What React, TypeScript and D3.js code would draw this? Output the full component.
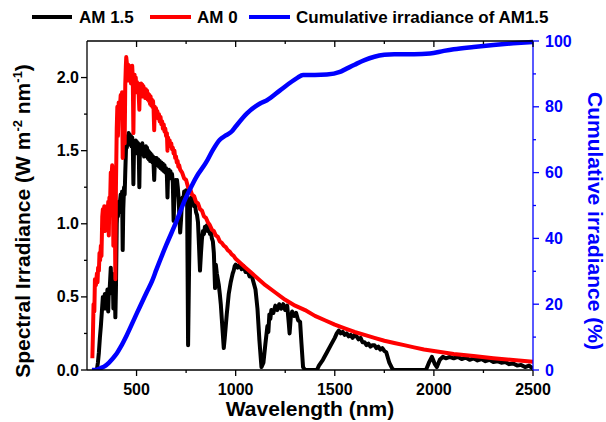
import React from "react";
import * as d3 from "d3";

// AM 0 spectrum: [wavelength (nm), spectral irradiance (W m-2 nm-1)]
const am0Data: [number, number][] = [
  [277,0.08],[280,0.25],[283,0.45],[287,0.40],[290,0.62],[295,0.58],[300,0.66],[303,0.60],[306,0.70],[310,0.68],
  [313,0.80],[316,0.75],[320,0.85],[323,0.78],[327,1.05],[330,1.10],[333,0.98],[337,1.12],[340,0.95],[343,1.08],
  [347,1.00],[350,1.12],[353,0.98],[357,1.15],[360,0.92],[363,1.18],[366,1.12],[370,1.35],[373,1.30],[377,1.40],
  [380,1.32],[383,0.85],[386,1.20],[390,1.15],[393,0.62],[396,1.25],[400,1.65],[403,1.80],[406,1.60],[410,1.83],
  [413,1.75],[417,1.82],[420,1.88],[423,1.75],[427,1.90],[430,1.45],[433,1.78],[437,1.90],[440,1.55],[443,1.95],
  [446,2.08],[448,2.14],[451,2.10],[454,2.02],[457,2.09],[460,1.98],[463,2.08],[466,2.03],[469,2.07],[472,1.96],
  [475,2.04],[478,2.08],[481,1.99],[484,1.62],[487,1.95],[490,2.02],[493,1.92],[496,2.00],[499,1.90],[502,1.97],
  [505,1.91],[508,1.96],[511,1.88],[514,1.78],[517,1.94],[520,1.89],[523,1.96],[526,1.90],[529,1.95],[532,1.87],
  [535,1.94],[538,1.89],[541,1.92],[544,1.86],[547,1.92],[550,1.88],[553,1.91],[556,1.85],[559,1.89],[562,1.84],
  [565,1.88],[568,1.82],[571,1.87],[574,1.81],[577,1.85],[580,1.80],[583,1.84],[586,1.78],[589,1.64],[592,1.80],
  [595,1.76],[598,1.79],[601,1.74],[605,1.77],[609,1.72],[613,1.75],[617,1.70],[621,1.73],[625,1.68],[629,1.70],
  [633,1.65],[637,1.68],[641,1.63],[645,1.65],[649,1.60],[653,1.62],[656,1.50],[659,1.59],[663,1.55],[667,1.57],
  [671,1.53],[675,1.55],[679,1.51],[683,1.52],[687,1.48],[691,1.50],[695,1.45],[699,1.46],[703,1.42],[707,1.43],
  [711,1.39],[715,1.40],[720,1.37],[730,1.35],[740,1.31],[750,1.30],[760,1.25],[770,1.24],[780,1.20],[790,1.19],
  [800,1.15],[810,1.14],[820,1.10],[830,1.09],[840,1.05],[850,1.04],[860,1.01],[870,0.99],[880,0.96],[890,0.95],
  [900,0.92],[910,0.91],[920,0.88],[930,0.87],[940,0.85],[950,0.84],[960,0.82],[970,0.81],[980,0.79],[990,0.78],
  [1000,0.76],[1025,0.73],[1050,0.70],[1075,0.67],[1100,0.64],[1150,0.58],[1200,0.53],[1250,0.48],[1300,0.44],
  [1350,0.41],[1400,0.37],[1450,0.34],[1500,0.31],[1550,0.285],[1600,0.26],[1650,0.24],[1700,0.22],[1750,0.20],
  [1800,0.185],[1850,0.17],[1900,0.155],[1950,0.14],[2000,0.13],[2100,0.11],[2200,0.095],[2300,0.08],[2400,0.068],
  [2500,0.057],
];

// AM 1.5 spectrum
const am15Data: [number, number][] = [
  [295,0],[300,0.005],[305,0.05],[310,0.12],[315,0.22],[320,0.30],[325,0.40],[330,0.50],[333,0.45],[337,0.48],
  [340,0.52],[343,0.42],[347,0.50],[350,0.48],[353,0.55],[357,0.40],[360,0.55],[363,0.52],[367,0.62],[370,0.70],
  [373,0.58],[377,0.66],[380,0.64],[383,0.42],[386,0.62],[390,0.60],[393,0.36],[396,0.55],[400,1.00],[403,1.10],
  [406,1.05],[410,1.15],[413,1.12],[417,1.16],[420,1.20],[423,1.08],[427,1.22],[430,0.82],[433,1.10],[437,1.25],
  [440,1.20],[443,1.35],[446,1.48],[448,1.56],[451,1.52],[454,1.60],[457,1.55],[460,1.62],[463,1.56],[466,1.61],
  [469,1.54],[472,1.60],[475,1.53],[478,1.59],[481,1.55],[484,1.27],[487,1.50],[490,1.56],[493,1.48],[496,1.57],
  [499,1.51],[502,1.56],[505,1.49],[508,1.55],[511,1.50],[514,1.25],[517,1.52],[520,1.47],[523,1.54],[526,1.49],
  [529,1.55],[532,1.48],[535,1.53],[538,1.46],[541,1.52],[544,1.47],[547,1.53],[550,1.48],[553,1.52],[556,1.45],
  [559,1.50],[562,1.44],[565,1.49],[568,1.43],[571,1.48],[574,1.44],[577,1.47],[580,1.42],[583,1.46],[586,1.40],
  [589,1.30],[592,1.42],[595,1.45],[598,1.40],[601,1.45],[605,1.41],[609,1.44],[613,1.39],[617,1.43],[621,1.38],
  [625,1.42],[629,1.37],[633,1.41],[637,1.36],[641,1.40],[645,1.35],[649,1.38],[653,1.33],[656,1.18],[659,1.34],
  [663,1.37],[667,1.32],[671,1.36],[675,1.31],[679,1.34],[683,1.28],[687,1.02],[690,1.15],[693,1.25],[697,1.30],
  [700,1.27],[704,1.30],[708,1.25],[712,1.18],[716,1.05],[720,0.94],[724,1.02],[728,1.12],[732,1.18],[736,1.15],
  [740,1.22],[745,1.19],[750,1.23],[755,1.17],[760,0.17],[765,0.70],[770,1.13],[775,1.18],[780,1.14],[785,1.17],
  [790,1.12],[795,1.13],[800,1.08],[805,1.06],[810,1.01],[815,0.85],[820,0.68],[825,0.80],[830,0.90],[835,0.95],
  [840,0.93],[845,0.98],[850,0.96],[855,0.99],[860,0.95],[865,0.97],[870,0.93],[875,0.95],[880,0.90],[885,0.88],
  [890,0.80],[896,0.56],[900,0.72],[905,0.66],[910,0.62],[915,0.58],[920,0.52],[925,0.45],[930,0.35],[935,0.25],
  [940,0.15],[945,0.22],[950,0.30],[955,0.38],[960,0.45],[965,0.52],[970,0.56],[975,0.60],[980,0.63],[985,0.66],
  [990,0.68],[995,0.71],[1000,0.72],[1010,0.70],[1020,0.72],[1030,0.69],[1040,0.71],[1050,0.67],[1060,0.68],
  [1070,0.64],[1080,0.65],[1090,0.60],[1100,0.55],[1110,0.42],[1120,0.20],[1130,0.02],[1140,0.05],[1150,0.18],
  [1160,0.30],[1165,0.26],[1170,0.38],[1175,0.35],[1180,0.41],[1190,0.39],[1200,0.44],[1210,0.41],[1220,0.45],
  [1230,0.42],[1240,0.45],[1250,0.41],[1260,0.44],[1268,0.32],[1272,0.25],[1278,0.36],[1285,0.40],[1295,0.37],
  [1305,0.39],[1315,0.34],[1325,0.33],[1332,0.18],[1340,0.02],[1350,0],[1410,0],[1420,0.03],[1440,0.07],
  [1460,0.12],[1480,0.17],[1500,0.22],[1510,0.25],[1520,0.27],[1530,0.25],[1540,0.26],[1550,0.24],[1560,0.25],
  [1570,0.23],[1580,0.24],[1590,0.22],[1600,0.24],[1610,0.23],[1620,0.21],[1630,0.22],[1640,0.19],[1650,0.19],
  [1660,0.17],[1670,0.18],[1680,0.16],[1690,0.17],[1700,0.17],[1710,0.15],[1720,0.16],[1730,0.14],[1740,0.15],
  [1750,0.13],[1760,0.12],[1775,0.05],[1790,0.01],[1800,0],[1960,0],[1975,0.05],[1990,0.09],[2005,0.04],
  [2015,0.02],[2030,0.07],[2045,0.09],[2060,0.08],[2080,0.09],[2100,0.08],[2120,0.09],[2140,0.075],[2160,0.085],
  [2180,0.07],[2200,0.08],[2220,0.065],[2240,0.075],[2260,0.06],[2280,0.07],[2300,0.055],[2320,0.06],[2340,0.05],
  [2360,0.055],[2380,0.04],[2400,0.045],[2420,0.03],[2440,0.035],[2460,0.02],[2480,0.03],[2500,0.01],
];

// Cumulative irradiance of AM1.5 (%)
const cumData: [number, number][] = [
  [275,0],[300,0.1],[320,0.6],[340,1.2],[360,2.2],[380,3.5],[400,5],[420,7],[450,10.5],[492,16],[550,23.5],
  [578,27],[600,30.5],[650,38],[700,45],[744,51.7],[770,55],[800,58.5],[850,63],[886,67],[920,70],[950,71.3],
  [980,72.5],[1000,74],[1057,78],[1123,81],[1158,82],[1224,85],[1309,88.7],[1340,89.7],[1400,89.7],[1460,89.8],
  [1526,90.6],[1550,91.3],[1600,92.8],[1650,94.2],[1700,95.2],[1750,95.8],[1800,96],[1900,96],[1980,96.2],
  [2050,97],[2100,97.5],[2200,98.2],[2300,98.8],[2400,99.3],[2500,99.7],
];

const xMajor = [500, 1000, 1500, 2000, 2500];
const xMinor = [750, 1250, 1750, 2250];
const yLMajor = [0, 0.5, 1.0, 1.5, 2.0];
const yLMinor = [0.25, 0.75, 1.25, 1.75];
const yRMajor = [0, 20, 40, 60, 80, 100];
const yRMinor = [10, 30, 50, 70, 90];

const FONT = "'Liberation Sans', Arial, sans-serif";
const BLUE = "#0000ff";
const RED = "#ff0000";

export default function App() {
  const L = 87, R = 533, T = 41, B = 370;
  const x = d3.scaleLinear().domain([250, 2500]).range([L, R]);
  const yL = d3.scaleLinear().domain([0, 2.25]).range([B, T]);
  const yR = d3.scaleLinear().domain([0, 100]).range([B, T]);

  const specLine = d3
    .line<[number, number]>()
    .x((d) => x(d[0]))
    .y((d) => yL(d[1]));
  const cumLine = d3
    .line<[number, number]>()
    .x((d) => x(d[0]))
    .y((d) => yR(d[1]))
    .curve(d3.curveMonotoneX);

  const tickFs = 16;

  return (
    <svg
      width={606}
      height={422}
      style={{ position: "absolute", left: 0, top: 0, background: "#fff" }}
      fontFamily={FONT}
      fontWeight="bold"
    >
      <rect x={0} y={0} width={606} height={422} fill="#fff" />
      <defs>
        <clipPath id="plotclip">
          <rect x={L} y={T - 3} width={R - L} height={B - T + 3} />
        </clipPath>
      </defs>

      <g clipPath="url(#plotclip)">
        <path d={specLine(am15Data) || ""} fill="none" stroke="#000" strokeWidth={4} strokeLinejoin="round" />
        <path d={specLine(am0Data) || ""} fill="none" stroke={RED} strokeWidth={4} strokeLinejoin="round" />
        <path d={cumLine(cumData) || ""} fill="none" stroke={BLUE} strokeWidth={4.5} strokeLinejoin="round" />
      </g>

      <line x1={L} x2={R} y1={B} y2={B} stroke="#000" strokeWidth={1.3} />
      <line x1={L} x2={R} y1={T} y2={T} stroke="#000" strokeWidth={1.3} />
      <line x1={L} x2={L} y1={T} y2={B} stroke="#000" strokeWidth={1.3} />
      <line x1={R} x2={R} y1={T} y2={B} stroke={BLUE} strokeWidth={1.3} />

      {xMajor.map((v) => (
        <g key={"xM" + v}>
          <line x1={x(v)} x2={x(v)} y1={B} y2={B + 6} stroke="#000" strokeWidth={1.3} />
          <line x1={x(v)} x2={x(v)} y1={T} y2={T + 6} stroke="#000" strokeWidth={1.3} />
          <text x={x(v)} y={395} textAnchor="middle" fontSize={tickFs} fill="#000">
            {v}
          </text>
        </g>
      ))}
      {xMinor.map((v) => (
        <g key={"xm" + v}>
          <line x1={x(v)} x2={x(v)} y1={B} y2={B + 3} stroke="#000" strokeWidth={1.3} />
          <line x1={x(v)} x2={x(v)} y1={T} y2={T + 3} stroke="#000" strokeWidth={1.3} />
        </g>
      ))}

      {yLMajor.map((v) => (
        <g key={"yl" + v}>
          <line x1={L - 6} x2={L} y1={yL(v)} y2={yL(v)} stroke="#000" strokeWidth={1.3} />
          <text x={79} y={yL(v)} dy="0.35em" textAnchor="end" fontSize={tickFs} fill="#000">
            {v.toFixed(1)}
          </text>
        </g>
      ))}
      {yLMinor.map((v) => (
        <line key={"ylm" + v} x1={L - 3} x2={L} y1={yL(v)} y2={yL(v)} stroke="#000" strokeWidth={1.3} />
      ))}

      {yRMajor.map((v) => (
        <g key={"yr" + v}>
          <line x1={R} x2={R + 6} y1={yR(v)} y2={yR(v)} stroke={BLUE} strokeWidth={1.3} />
          <text x={545} y={yR(v)} dy="0.35em" textAnchor="start" fontSize={tickFs} fill={BLUE}>
            {v}
          </text>
        </g>
      ))}
      {yRMinor.map((v) => (
        <line key={"yrm" + v} x1={R} x2={R + 3} y1={yR(v)} y2={yR(v)} stroke={BLUE} strokeWidth={1.3} />
      ))}

      <text x={(L + R) / 2} y={416} textAnchor="middle" fontSize={21} fill="#000">
        Wavelength (nm)
      </text>
      <text transform="translate(30,221) rotate(-90)" textAnchor="middle" fontSize={21} fill="#000">
        Spectral Irradiance (W m
        <tspan dy={-8} fontSize={13}>-2</tspan>
        <tspan dy={8}> nm</tspan>
        <tspan dy={-8} fontSize={13}>-1</tspan>
        <tspan dy={8}>)</tspan>
      </text>
      <text transform="translate(588,221) rotate(90)" textAnchor="middle" fontSize={21} fill={BLUE}>
        Cumulative irradiance (%)
      </text>

      <g fontSize={17}>
        <line x1={32} x2={72} y1={17} y2={17} stroke="#000" strokeWidth={4} />
        <text x={79} y={23} fill="#000">AM 1.5</text>
        <line x1={150} x2={191} y1={17} y2={17} stroke={RED} strokeWidth={4} />
        <text x={197} y={23} fill="#000">AM 0</text>
        <line x1={249} x2={290} y1={17} y2={17} stroke={BLUE} strokeWidth={4} />
        <text x={296} y={23} fill="#000">Cumulative irradiance of AM1.5</text>
      </g>
    </svg>
  );
}
